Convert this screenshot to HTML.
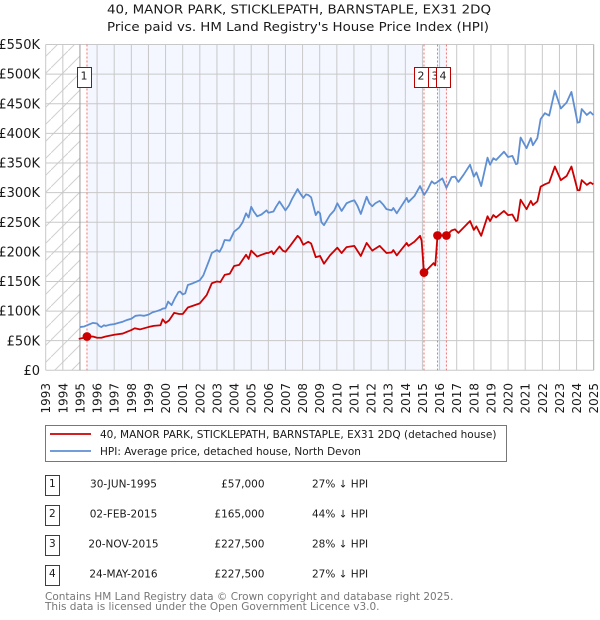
<!DOCTYPE html>
<html>
<head>
<meta charset="utf-8">
<title>40, Manor Park price paid vs HPI</title>
<style>
html,body{margin:0;padding:0;background:#fff;}
body{width:600px;height:620px;overflow:hidden;}
svg{display:block;}
text{font-family:"DejaVu Sans","Liberation Sans",sans-serif;fill:#1a1a1a;}
</style>
</head>
<body>
<svg id="chart" xmlns="http://www.w3.org/2000/svg" width="600" height="620" viewBox="0 0 600 620">
  <defs>
    <pattern id="hatch" patternUnits="userSpaceOnUse" width="17" height="17">
      <line x1="0" y1="17" x2="17" y2="0" stroke="#d0d0d0" stroke-width="1"/>
    </pattern>
  </defs>
  <text x="107" y="13.5" font-size="12.5" textLength="384" lengthAdjust="spacingAndGlyphs">40, MANOR PARK, STICKLEPATH, BARNSTAPLE, EX31 2DQ</text>
  <text x="107" y="31" font-size="12.5" textLength="382" lengthAdjust="spacingAndGlyphs">Price paid vs. HM Land Registry's House Price Index (HPI)</text>
  <g id="plot"></g>

  <g>
    <rect x="45.5" y="425.5" width="461" height="36" fill="#fff" stroke="#777" stroke-width="1"/>
    <line x1="50" y1="434" x2="91" y2="434" stroke="#cc0000" stroke-width="1.8"/>
    <text x="100" y="438" font-size="10.5">40, MANOR PARK, STICKLEPATH, BARNSTAPLE, EX31 2DQ (detached house)</text>
    <line x1="50" y1="451" x2="91" y2="451" stroke="#5f8fd2" stroke-width="1.8"/>
    <text x="100" y="455" font-size="10.5">HPI: Average price, detached house, North Devon</text>
  </g>

  <g id="table"></g>

  <text x="45" y="600" font-size="10.5" style="fill:#777">Contains HM Land Registry data © Crown copyright and database right 2025.</text>
  <text x="45" y="610" font-size="10.5" style="fill:#777">This data is licensed under the Open Government Licence v3.0.</text>
</svg>

<script>
var yearTicks = [1993,1994,1995,1996,1997,1998,1999,2000,2001,2002,2003,2004,2005,2006,2007,2008,2009,2010,2011,2012,2013,2014,2015,2016,2017,2018,2019,2020,2021,2022,2023,2024,2025];
var valueTicks = [0,50,100,150,200,250,300,350,400,450,500,550];
var valueLabels = ['£0','£50K','£100K','£150K','£200K','£250K','£300K','£350K','£400K','£450K','£500K','£550K'];

var hpiDates = [1995,1995.25,1995.5,1995.75,1996,1996.12,1996.25,1996.4,1996.5,1996.75,1997,1997.25,1997.5,1997.75,1998,1998.25,1998.5,1998.75,1999,1999.25,1999.5,1999.7,1999.83,2000,2000.15,2000.35,2000.55,2000.75,2000.85,2001,2001.15,2001.3,2001.6,2002,2002.2,2002.4,2002.55,2002.7,2003,2003.15,2003.3,2003.45,2003.75,2004,2004.3,2004.5,2004.7,2004.85,2005,2005.15,2005.35,2005.6,2005.9,2006,2006.3,2006.45,2006.65,2007,2007.2,2007.4,2007.71,2007.85,2008.04,2008.2,2008.33,2008.5,2008.77,2008.9,2009.02,2009.1,2009.25,2009.6,2009.85,2010.03,2010.28,2010.57,2010.8,2011.02,2011.2,2011.4,2011.74,2011.9,2012.07,2012.25,2012.5,2012.7,2012.9,2013.2,2013.3,2013.5,2014.08,2014.18,2014.53,2014.86,2015.1,2015.3,2015.54,2015.7,2015.83,2016.16,2016.4,2016.7,2016.9,2017.1,2017.4,2017.78,2018,2018.15,2018.43,2018.8,2018.95,2019.14,2019.3,2019.76,2020,2020.25,2020.46,2020.55,2020.73,2021.08,2021.33,2021.45,2021.71,2021.9,2022.15,2022.4,2022.73,2023.08,2023.42,2023.7,2024.06,2024.18,2024.3,2024.6,2024.8,2024.98];
var hpiValues = [73,74,77,80,79,75,73,76,75,77,78,80,82,85,87,92,93,92,94,98,100,102,104,105,116,110,122,132,133,128,130,144,147,152,160,175,186,198,203,200,208,220,219,234,241,250,265,258,276,268,260,263,270,266,268,276,285,270,278,290,306,299,291,297,296,292,262,268,265,250,245,262,270,282,269,282,285,287,278,264,293,282,277,282,286,280,272,270,274,265,291,284,294,311,296,305,319,315,317,324,308,326,327,318,330,347,327,334,311,359,347,358,355,369,360,362,348,349,393,375,392,380,392,424,434,430,472,442,452,470,418,419,441,431,436,431];

var priceDates = [1994.93,1995.25,1995.41,1995.75,1996,1996.25,1996.5,1997,1997.5,1998,1998.2,1998.5,1999,1999.3,1999.7,1999.83,2000,2000.2,2000.5,2000.8,2001,2001.3,2001.6,2002,2002.4,2002.7,2003,2003.2,2003.45,2003.75,2004,2004.3,2004.7,2004.85,2005,2005.35,2005.6,2005.9,2006,2006.2,2006.3,2006.65,2006.85,2007,2007.3,2007.71,2007.85,2008.04,2008.33,2008.5,2008.77,2009.02,2009.25,2009.6,2010.03,2010.28,2010.57,2011.02,2011.4,2011.74,2012.07,2012.5,2012.9,2013.2,2013.3,2013.5,2014.08,2014.18,2014.53,2014.86,2014.95,2015.09,2015.35,2015.65,2015.75,2015.88,2016.16,2016.4,2016.7,2016.9,2017.1,2017.78,2018,2018.15,2018.43,2018.8,2018.95,2019.14,2019.3,2019.76,2020,2020.25,2020.46,2020.55,2020.73,2021.08,2021.33,2021.45,2021.71,2021.9,2022.15,2022.4,2022.73,2023.08,2023.42,2023.7,2024.06,2024.18,2024.3,2024.6,2024.8,2024.98];
var priceValues = [53,55,57,57,55,55,57,60,62,68,71,69,73,75,76,86,80,84,97,95,95,106,109,113,127,147,150,149,161,163,176,178,195,188,202,192,195,198,198,201,196,209,202,200,211,227,223,212,217,214,191,193,180,194,207,198,208,210,193,215,202,210,198,199,203,194,215,210,217,227,219,165,172,181,177,227.5,227.5,227.5,236,238,232,252,237,243,227,260,252,262,258,269,262,263,252,253,288,272,286,279,285,310,314,317,344,321,328,344,304,304,321,313,317,314];

var saleIds = ['1','2','3','4'];
var saleDates = [1995.41,2015.09,2015.88,2016.4];
var salePrices = [57,165,227.5,227.5];
var saleDateLabels = ['30-JUN-1995','02-FEB-2015','20-NOV-2015','24-MAY-2016'];
var salePriceLabels = ['£57,000','£165,000','£227,500','£227,500'];
var saleDeltaLabels = ['27% ↓ HPI','44% ↓ HPI','28% ↓ HPI','27% ↓ HPI'];

var NS = 'http://www.w3.org/2000/svg';
var plot = document.getElementById('plot');
var table = document.getElementById('table');
var X0 = 45.7, X1 = 593.7, Y0 = 370.3, Y1 = 44.5;

function xScale(year) { return X0 + (year - 1993) * (X1 - X0) / 32; }
function yScale(value) { return Y0 - value * (Y0 - Y1) / 550; }
function add(parent, tag, attrs) {
  var el = document.createElementNS(NS, tag);
  for (var k in attrs) { el.setAttribute(k, attrs[k]); }
  parent.appendChild(el);
  return el;
}
function pathFrom(dates, values) {
  var d = '';
  for (var i = 0; i < dates.length; i++) {
    d += (i ? 'L' : 'M') + xScale(dates[i]).toFixed(2) + ' ' + yScale(values[i]).toFixed(2);
  }
  return d;
}

var hatchRect = add(plot, 'rect', {x: X0, y: Y1, width: xScale(1995) - X0, height: Y0 - Y1, fill: 'url(#hatch)'});



var band1 = add(plot, 'rect', {x: xScale(saleDates[0]), y: Y1, width: xScale(saleDates[1]) - xScale(saleDates[0]), height: Y0 - Y1, fill: '#f4f7ff'});



var band2 = add(plot, 'rect', {x: xScale(saleDates[2]), y: Y1, width: xScale(saleDates[3]) - xScale(saleDates[2]), height: Y0 - Y1, fill: '#f4f7ff'});



valueTicks.forEach(function (v, i) {
  var g = add(plot, 'line', {x1: X0, x2: X1, y1: yScale(v), y2: yScale(v), stroke: '#c8c8c8', 'stroke-width': 1});
  
  
  var t = add(plot, 'text', {x: 40, y: yScale(v) + 4.6, 'text-anchor': 'end', 'font-size': 13});
  
  
  t.textContent = valueLabels[i];
});

yearTicks.forEach(function (y) {
  var stroke = y === 1995 ? '#999' : (y === 2025 ? '#aaa' : '#c8c8c8');
  var g = add(plot, 'line', {x1: xScale(y), x2: xScale(y), y1: Y1, y2: Y0, stroke: stroke, 'stroke-width': 1});
  
  
  var t = add(plot, 'text', {'text-anchor': 'end', 'font-size': 12, transform: 'translate(' + (xScale(y) + 4.5) + ',383) rotate(-90)'});
  
  
  t.textContent = y;
});

saleDates.forEach(function (d) {
  var l = add(plot, 'line', {x1: xScale(d), x2: xScale(d), y1: Y1, y2: Y0, stroke: '#ff6b6b', 'stroke-width': 1, 'stroke-dasharray': '2 2'});
  
  
});

var hpiLine = add(plot, 'path', {d: pathFrom(hpiDates, hpiValues), fill: 'none', stroke: '#5f8fd2', 'stroke-width': 1.8, 'stroke-linejoin': 'round'});



var priceLine = add(plot, 'path', {d: pathFrom(priceDates, priceValues), fill: 'none', stroke: '#cc0000', 'stroke-width': 1.8, 'stroke-linejoin': 'round'});



saleDates.forEach(function (d, i) {
  var m = add(plot, 'circle', {cx: xScale(d), cy: yScale(salePrices[i]), r: 4.4, fill: '#cc0000'});
  
  
});

saleDates.forEach(function (d, i) {
  var bx = Math.round(xScale(d)) - 10;
  var b = add(plot, 'rect', {x: bx + 0.5, y: 67.5, width: 14, height: 20, fill: '#fff', stroke: '#bb0000', 'stroke-width': 1});
  
  
  var t = add(plot, 'text', {x: bx + 7, y: 79.5, 'text-anchor': 'middle', 'font-size': 11});
  
  
  t.textContent = saleIds[i];
});

saleIds.forEach(function (id, i) {
  var top = 475.5 + i * 30;
  var b = add(table, 'rect', {x: 45.5, y: top, width: 14, height: 20, fill: '#fff', stroke: '#cc0000', 'stroke-width': 1});
  
  
  var n = add(table, 'text', {x: 52.3, y: top + 11.5, 'text-anchor': 'middle', 'font-size': 10.5});
  
  
  n.textContent = id;
  var dt = add(table, 'text', {x: 123.5, y: top + 12, 'text-anchor': 'middle', 'font-size': 10.5});
  
  
  dt.textContent = saleDateLabels[i];
  var p = add(table, 'text', {x: 264.5, y: top + 12, 'text-anchor': 'end', 'font-size': 10.5});
  
  
  p.textContent = salePriceLabels[i];
  var h = add(table, 'text', {x: 312, y: top + 12, 'font-size': 10.5});
  
  
  h.textContent = saleDeltaLabels[i];
});
</script>
</body>
</html>
